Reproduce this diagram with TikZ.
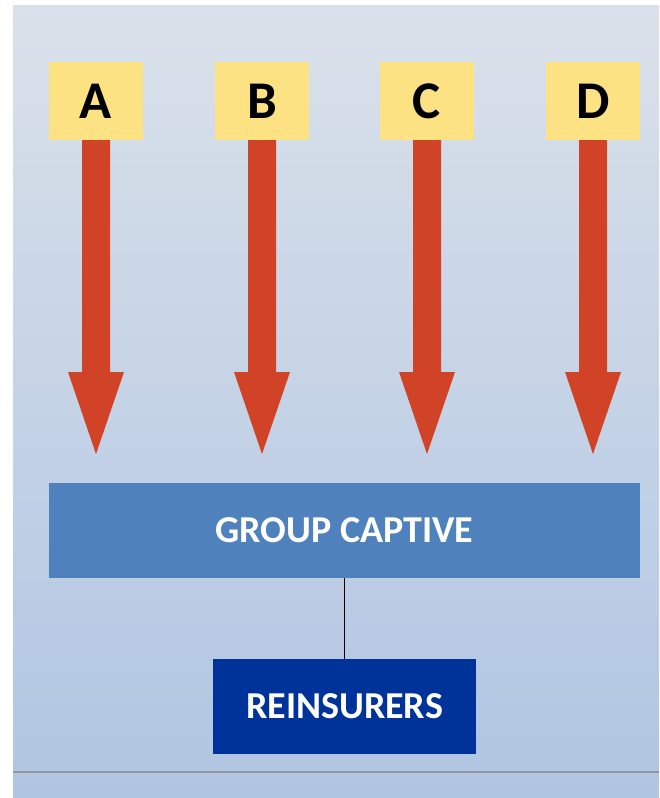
\documentclass[tikz,border=0pt]{standalone}
\usepackage{fontspec}
\setmainfont{Carlito}
\usetikzlibrary{calc}
\definecolor{bgtop}{RGB}{218,225,234}
\definecolor{bgbot}{RGB}{176,197,226}
\definecolor{lblyellow}{RGB}{252,226,131}
\definecolor{arrred}{RGB}{208,67,38}
\definecolor{gcblue}{RGB}{79,129,189}
\definecolor{reblue}{RGB}{0,51,153}
\definecolor{lineGray}{RGB}{150,150,150}
\tikzset{
  lbl/.style={fill=lblyellow, minimum width=94pt, minimum height=78pt, inner sep=0pt,
    font=\fontsize{53}{53}\selectfont\bfseries, text=black},
  bigarrow/.style={fill=arrred, draw=none},
  boxstyle/.style={minimum height=95pt, inner sep=0pt, text=white,
    font=\fontsize{38}{38}\selectfont\bfseries},
}
\newcommand{\myarrow}[2]{%
  \fill[bigarrow] ($(#1.south)+(-14,0)$) -- ($(#1.south)+(14,0)$)
    -- ($(#2)+(14,-82)$) -- ($(#2)+(28,-82)$) -- (#2)
    -- ($(#2)+(-28,-82)$) -- ($(#2)+(-14,-82)$) -- cycle;}
\begin{document}
\begin{tikzpicture}[x=1pt,y=-1pt]
\useasboundingbox (0,0) rectangle (659,798);
\fill[white] (0,0) rectangle (659,798);
\shade[top color=bgtop,bottom color=bgbot] (13,5) rectangle (659,798);
\draw[lineGray, line width=2pt] (13,772) -- (659,772);
\node[lbl] (A) at (96,101) {A};
\node[lbl] (B) at (262,101) {B};
\node[lbl] (C) at (427,101) {C};
\node[lbl] (D) at (593,101) {D};
\coordinate (tA) at (96,454);
\coordinate (tB) at (262,454);
\coordinate (tC) at (427,454);
\coordinate (tD) at (593,454);
\myarrow{A}{tA}
\myarrow{B}{tB}
\myarrow{C}{tC}
\myarrow{D}{tD}
\node[boxstyle, fill=gcblue, minimum width=591pt] (gc) at (344.5,530.5) {GROUP CAPTIVE};
\node[boxstyle, fill=reblue, minimum width=263pt] (re) at (344.5,706.5) {REINSURERS};
\draw[black, line width=1.5pt] (gc.south) -- (re.north);
\end{tikzpicture}
\end{document}
